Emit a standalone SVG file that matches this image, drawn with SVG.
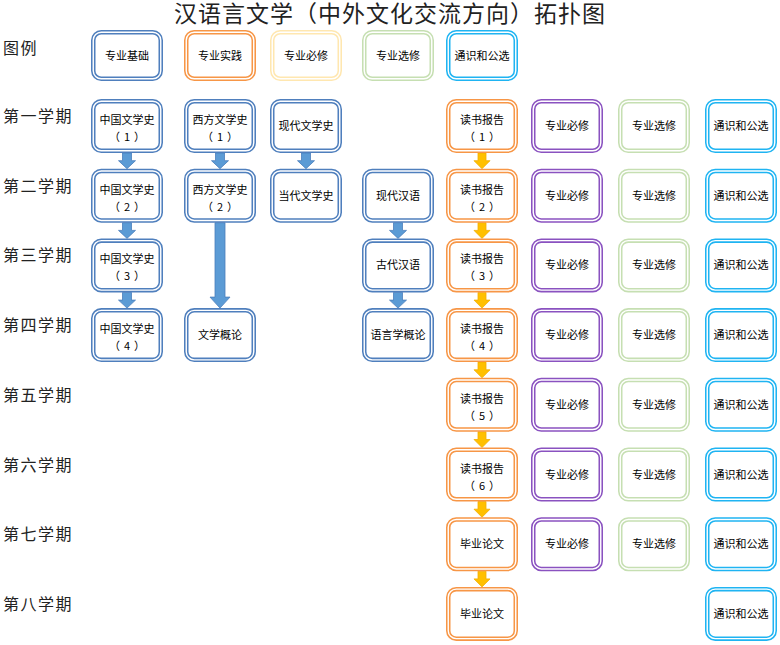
<svg xmlns="http://www.w3.org/2000/svg" width="780" height="645" viewBox="0 0 780 645">
<style>
text{font-family:"Noto Sans CJK SC","Noto Sans CJK JP",sans-serif;fill:#000}
.title{font-size:23px;fill:#222;letter-spacing:1px}
.lab{font-size:16px;fill:#222;letter-spacing:1.5px}
.node text{font-size:11px;text-anchor:middle}
.node .a{fill:#fff;stroke-width:4.5}
.node .w{fill:none;stroke:#fff;stroke-width:1.4}
.blue .a{stroke:#4f7fbd}
.orange .a{stroke:#f79646}
.yellow .a{stroke:#ffe7b0}
.green .a{stroke:#c6dfb2}
.cyan .a{stroke:#1fb4f2}
.purple .a{stroke:#8a52c0}
.ab{fill:#5b9bd5;stroke:#4a7ebb;stroke-width:0.8}
.ao{fill:#ffc000;stroke:#f2ad00;stroke-width:0.8}
</style>
<text class="title" x="390" y="22" text-anchor="middle">汉语言文学（中外文化交流方向）拓扑图</text>
<g id="labels">
<text class="lab" x="3" y="54">图例</text>
<text class="lab" x="3" y="122">第一学期</text>
<text class="lab" x="3" y="191.7">第二学期</text>
<text class="lab" x="3" y="261.4">第三学期</text>
<text class="lab" x="3" y="331.1">第四学期</text>
<text class="lab" x="3" y="400.8">第五学期</text>
<text class="lab" x="3" y="470.5">第六学期</text>
<text class="lab" x="3" y="540.2">第七学期</text>
<text class="lab" x="3" y="609.9">第八学期</text>
</g>
<g id="connectors">
<polygon class="ab" points="122.5,153 131.5,153 131.5,160.7 135.5,160.7 127,168.7 118.5,160.7 122.5,160.7"/>
<polygon class="ab" points="122.5,222.7 131.5,222.7 131.5,230.4 135.5,230.4 127,238.4 118.5,230.4 122.5,230.4"/>
<polygon class="ab" points="122.5,292.4 131.5,292.4 131.5,300.1 135.5,300.1 127,308.1 118.5,300.1 122.5,300.1"/>
<polygon class="ab" points="215.5,153 224.5,153 224.5,160.7 228.5,160.7 220,168.7 211.5,160.7 215.5,160.7"/>
<polygon class="ab" points="215,222.7 225,222.7 225,297.1 230,297.1 220,308.1 210,297.1 215,297.1"/>
<polygon class="ab" points="301.5,153 310.5,153 310.5,160.7 314.5,160.7 306,168.7 297.5,160.7 301.5,160.7"/>
<polygon class="ab" points="393.5,222.7 402.5,222.7 402.5,230.4 406.5,230.4 398,238.4 389.5,230.4 393.5,230.4"/>
<polygon class="ab" points="393.5,292.4 402.5,292.4 402.5,300.1 406.5,300.1 398,308.1 389.5,300.1 393.5,300.1"/>
<polygon class="ao" points="478,153 486,153 486,160.7 490,160.7 482,168.7 474,160.7 478,160.7"/>
<polygon class="ao" points="478,222.7 486,222.7 486,230.4 490,230.4 482,238.4 474,230.4 478,230.4"/>
<polygon class="ao" points="478,292.4 486,292.4 486,300.1 490,300.1 482,308.1 474,300.1 478,300.1"/>
<polygon class="ao" points="478,362.1 486,362.1 486,369.8 490,369.8 482,377.8 474,369.8 478,369.8"/>
<polygon class="ao" points="478,431.8 486,431.8 486,439.5 490,439.5 482,447.5 474,439.5 478,439.5"/>
<polygon class="ao" points="478,501.5 486,501.5 486,509.2 490,509.2 482,517.2 474,509.2 478,509.2"/>
<polygon class="ao" points="478,571.2 486,571.2 486,578.9 490,578.9 482,586.9 474,578.9 478,578.9"/>
</g>
<!-- legend -->
<g id="leg1" class="node blue"><rect class="a" x="93.25" y="32.25" width="67.5" height="46.5" rx="8"/><rect class="w" x="93.25" y="32.25" width="67.5" height="46.5" rx="8"/><text x="127" y="59.5">专业基础</text></g>
<g id="leg2" class="node orange"><rect class="a" x="186.25" y="32.25" width="67.5" height="46.5" rx="8"/><rect class="w" x="186.25" y="32.25" width="67.5" height="46.5" rx="8"/><text x="220" y="59.5">专业实践</text></g>
<g id="leg3" class="node yellow"><rect class="a" x="272.25" y="32.25" width="67.5" height="46.5" rx="8"/><rect class="w" x="272.25" y="32.25" width="67.5" height="46.5" rx="8"/><text x="306" y="59.5">专业必修</text></g>
<g id="leg4" class="node green"><rect class="a" x="364.25" y="32.25" width="67.5" height="46.5" rx="8"/><rect class="w" x="364.25" y="32.25" width="67.5" height="46.5" rx="8"/><text x="398" y="59.5">专业选修</text></g>
<g id="leg5" class="node cyan"><rect class="a" x="448.25" y="32.25" width="67.5" height="46.5" rx="8"/><rect class="w" x="448.25" y="32.25" width="67.5" height="46.5" rx="8"/><text x="482" y="59.5">通识和公选</text></g>
<!-- column 1 -->
<g id="zgwxs1" class="node blue"><rect class="a" x="93.25" y="101.25" width="67.5" height="49.5" rx="8"/><rect class="w" x="93.25" y="101.25" width="67.5" height="49.5" rx="8"/><text x="127" y="124">中国文学史</text><text x="127" y="141">（<tspan dx="4">1</tspan><tspan dx="4">）</tspan></text></g>
<g id="zgwxs2" class="node blue"><rect class="a" x="93.25" y="170.95" width="67.5" height="49.5" rx="8"/><rect class="w" x="93.25" y="170.95" width="67.5" height="49.5" rx="8"/><text x="127" y="193.7">中国文学史</text><text x="127" y="210.7">（<tspan dx="4">2</tspan><tspan dx="4">）</tspan></text></g>
<g id="zgwxs3" class="node blue"><rect class="a" x="93.25" y="240.65" width="67.5" height="49.5" rx="8"/><rect class="w" x="93.25" y="240.65" width="67.5" height="49.5" rx="8"/><text x="127" y="263.4">中国文学史</text><text x="127" y="280.4">（<tspan dx="4">3</tspan><tspan dx="4">）</tspan></text></g>
<g id="zgwxs4" class="node blue"><rect class="a" x="93.25" y="310.35" width="67.5" height="49.5" rx="8"/><rect class="w" x="93.25" y="310.35" width="67.5" height="49.5" rx="8"/><text x="127" y="333.1">中国文学史</text><text x="127" y="350.1">（<tspan dx="4">4</tspan><tspan dx="4">）</tspan></text></g>
<!-- column 2 -->
<g id="xfwxs1" class="node blue"><rect class="a" x="186.25" y="101.25" width="67.5" height="49.5" rx="8"/><rect class="w" x="186.25" y="101.25" width="67.5" height="49.5" rx="8"/><text x="220" y="124">西方文学史</text><text x="220" y="141">（<tspan dx="4">1</tspan><tspan dx="4">）</tspan></text></g>
<g id="xfwxs2" class="node blue"><rect class="a" x="186.25" y="170.95" width="67.5" height="49.5" rx="8"/><rect class="w" x="186.25" y="170.95" width="67.5" height="49.5" rx="8"/><text x="220" y="193.7">西方文学史</text><text x="220" y="210.7">（<tspan dx="4">2</tspan><tspan dx="4">）</tspan></text></g>
<g id="wxgl" class="node blue"><rect class="a" x="186.25" y="310.35" width="67.5" height="49.5" rx="8"/><rect class="w" x="186.25" y="310.35" width="67.5" height="49.5" rx="8"/><text x="220" y="339.1">文学概论</text></g>
<!-- column 3 -->
<g id="xdwxs" class="node blue"><rect class="a" x="272.25" y="101.25" width="67.5" height="49.5" rx="8"/><rect class="w" x="272.25" y="101.25" width="67.5" height="49.5" rx="8"/><text x="306" y="130">现代文学史</text></g>
<g id="ddwxs" class="node blue"><rect class="a" x="272.25" y="170.95" width="67.5" height="49.5" rx="8"/><rect class="w" x="272.25" y="170.95" width="67.5" height="49.5" rx="8"/><text x="306" y="199.7">当代文学史</text></g>
<!-- column 4 -->
<g id="xdhy" class="node blue"><rect class="a" x="364.25" y="170.95" width="67.5" height="49.5" rx="8"/><rect class="w" x="364.25" y="170.95" width="67.5" height="49.5" rx="8"/><text x="398" y="199.7">现代汉语</text></g>
<g id="gdhy" class="node blue"><rect class="a" x="364.25" y="240.65" width="67.5" height="49.5" rx="8"/><rect class="w" x="364.25" y="240.65" width="67.5" height="49.5" rx="8"/><text x="398" y="269.4">古代汉语</text></g>
<g id="yyxgl" class="node blue"><rect class="a" x="364.25" y="310.35" width="67.5" height="49.5" rx="8"/><rect class="w" x="364.25" y="310.35" width="67.5" height="49.5" rx="8"/><text x="398" y="339.1">语言学概论</text></g>
<!-- column 5 -->
<g id="dsbg1" class="node orange"><rect class="a" x="448.25" y="101.25" width="67.5" height="49.5" rx="8"/><rect class="w" x="448.25" y="101.25" width="67.5" height="49.5" rx="8"/><text x="482" y="124">读书报告</text><text x="482" y="141">（<tspan dx="4">1</tspan><tspan dx="4">）</tspan></text></g>
<g id="dsbg2" class="node orange"><rect class="a" x="448.25" y="170.95" width="67.5" height="49.5" rx="8"/><rect class="w" x="448.25" y="170.95" width="67.5" height="49.5" rx="8"/><text x="482" y="193.7">读书报告</text><text x="482" y="210.7">（<tspan dx="4">2</tspan><tspan dx="4">）</tspan></text></g>
<g id="dsbg3" class="node orange"><rect class="a" x="448.25" y="240.65" width="67.5" height="49.5" rx="8"/><rect class="w" x="448.25" y="240.65" width="67.5" height="49.5" rx="8"/><text x="482" y="263.4">读书报告</text><text x="482" y="280.4">（<tspan dx="4">3</tspan><tspan dx="4">）</tspan></text></g>
<g id="dsbg4" class="node orange"><rect class="a" x="448.25" y="310.35" width="67.5" height="49.5" rx="8"/><rect class="w" x="448.25" y="310.35" width="67.5" height="49.5" rx="8"/><text x="482" y="333.1">读书报告</text><text x="482" y="350.1">（<tspan dx="4">4</tspan><tspan dx="4">）</tspan></text></g>
<g id="dsbg5" class="node orange"><rect class="a" x="448.25" y="380.05" width="67.5" height="49.5" rx="8"/><rect class="w" x="448.25" y="380.05" width="67.5" height="49.5" rx="8"/><text x="482" y="402.8">读书报告</text><text x="482" y="419.8">（<tspan dx="4">5</tspan><tspan dx="4">）</tspan></text></g>
<g id="dsbg6" class="node orange"><rect class="a" x="448.25" y="449.75" width="67.5" height="49.5" rx="8"/><rect class="w" x="448.25" y="449.75" width="67.5" height="49.5" rx="8"/><text x="482" y="472.5">读书报告</text><text x="482" y="489.5">（<tspan dx="4">6</tspan><tspan dx="4">）</tspan></text></g>
<g id="bylw7" class="node orange"><rect class="a" x="448.25" y="519.45" width="67.5" height="49.5" rx="8"/><rect class="w" x="448.25" y="519.45" width="67.5" height="49.5" rx="8"/><text x="482" y="548.2">毕业论文</text></g>
<g id="bylw8" class="node orange"><rect class="a" x="448.25" y="589.15" width="67.5" height="49.5" rx="8"/><rect class="w" x="448.25" y="589.15" width="67.5" height="49.5" rx="8"/><text x="482" y="617.9">毕业论文</text></g>
<!-- column 6 -->
<g id="bx1" class="node purple"><rect class="a" x="533.25" y="101.25" width="67.5" height="49.5" rx="8"/><rect class="w" x="533.25" y="101.25" width="67.5" height="49.5" rx="8"/><text x="567" y="130">专业必修</text></g>
<g id="bx2" class="node purple"><rect class="a" x="533.25" y="170.95" width="67.5" height="49.5" rx="8"/><rect class="w" x="533.25" y="170.95" width="67.5" height="49.5" rx="8"/><text x="567" y="199.7">专业必修</text></g>
<g id="bx3" class="node purple"><rect class="a" x="533.25" y="240.65" width="67.5" height="49.5" rx="8"/><rect class="w" x="533.25" y="240.65" width="67.5" height="49.5" rx="8"/><text x="567" y="269.4">专业必修</text></g>
<g id="bx4" class="node purple"><rect class="a" x="533.25" y="310.35" width="67.5" height="49.5" rx="8"/><rect class="w" x="533.25" y="310.35" width="67.5" height="49.5" rx="8"/><text x="567" y="339.1">专业必修</text></g>
<g id="bx5" class="node purple"><rect class="a" x="533.25" y="380.05" width="67.5" height="49.5" rx="8"/><rect class="w" x="533.25" y="380.05" width="67.5" height="49.5" rx="8"/><text x="567" y="408.8">专业必修</text></g>
<g id="bx6" class="node purple"><rect class="a" x="533.25" y="449.75" width="67.5" height="49.5" rx="8"/><rect class="w" x="533.25" y="449.75" width="67.5" height="49.5" rx="8"/><text x="567" y="478.5">专业必修</text></g>
<g id="bx7" class="node purple"><rect class="a" x="533.25" y="519.45" width="67.5" height="49.5" rx="8"/><rect class="w" x="533.25" y="519.45" width="67.5" height="49.5" rx="8"/><text x="567" y="548.2">专业必修</text></g>
<!-- column 7 -->
<g id="xx1" class="node green"><rect class="a" x="620.25" y="101.25" width="67.5" height="49.5" rx="8"/><rect class="w" x="620.25" y="101.25" width="67.5" height="49.5" rx="8"/><text x="654" y="130">专业选修</text></g>
<g id="xx2" class="node green"><rect class="a" x="620.25" y="170.95" width="67.5" height="49.5" rx="8"/><rect class="w" x="620.25" y="170.95" width="67.5" height="49.5" rx="8"/><text x="654" y="199.7">专业选修</text></g>
<g id="xx3" class="node green"><rect class="a" x="620.25" y="240.65" width="67.5" height="49.5" rx="8"/><rect class="w" x="620.25" y="240.65" width="67.5" height="49.5" rx="8"/><text x="654" y="269.4">专业选修</text></g>
<g id="xx4" class="node green"><rect class="a" x="620.25" y="310.35" width="67.5" height="49.5" rx="8"/><rect class="w" x="620.25" y="310.35" width="67.5" height="49.5" rx="8"/><text x="654" y="339.1">专业选修</text></g>
<g id="xx5" class="node green"><rect class="a" x="620.25" y="380.05" width="67.5" height="49.5" rx="8"/><rect class="w" x="620.25" y="380.05" width="67.5" height="49.5" rx="8"/><text x="654" y="408.8">专业选修</text></g>
<g id="xx6" class="node green"><rect class="a" x="620.25" y="449.75" width="67.5" height="49.5" rx="8"/><rect class="w" x="620.25" y="449.75" width="67.5" height="49.5" rx="8"/><text x="654" y="478.5">专业选修</text></g>
<g id="xx7" class="node green"><rect class="a" x="620.25" y="519.45" width="67.5" height="49.5" rx="8"/><rect class="w" x="620.25" y="519.45" width="67.5" height="49.5" rx="8"/><text x="654" y="548.2">专业选修</text></g>
<!-- column 8 -->
<g id="ts1" class="node cyan"><rect class="a" x="707.25" y="101.25" width="67.5" height="49.5" rx="8"/><rect class="w" x="707.25" y="101.25" width="67.5" height="49.5" rx="8"/><text x="741" y="130">通识和公选</text></g>
<g id="ts2" class="node cyan"><rect class="a" x="707.25" y="170.95" width="67.5" height="49.5" rx="8"/><rect class="w" x="707.25" y="170.95" width="67.5" height="49.5" rx="8"/><text x="741" y="199.7">通识和公选</text></g>
<g id="ts3" class="node cyan"><rect class="a" x="707.25" y="240.65" width="67.5" height="49.5" rx="8"/><rect class="w" x="707.25" y="240.65" width="67.5" height="49.5" rx="8"/><text x="741" y="269.4">通识和公选</text></g>
<g id="ts4" class="node cyan"><rect class="a" x="707.25" y="310.35" width="67.5" height="49.5" rx="8"/><rect class="w" x="707.25" y="310.35" width="67.5" height="49.5" rx="8"/><text x="741" y="339.1">通识和公选</text></g>
<g id="ts5" class="node cyan"><rect class="a" x="707.25" y="380.05" width="67.5" height="49.5" rx="8"/><rect class="w" x="707.25" y="380.05" width="67.5" height="49.5" rx="8"/><text x="741" y="408.8">通识和公选</text></g>
<g id="ts6" class="node cyan"><rect class="a" x="707.25" y="449.75" width="67.5" height="49.5" rx="8"/><rect class="w" x="707.25" y="449.75" width="67.5" height="49.5" rx="8"/><text x="741" y="478.5">通识和公选</text></g>
<g id="ts7" class="node cyan"><rect class="a" x="707.25" y="519.45" width="67.5" height="49.5" rx="8"/><rect class="w" x="707.25" y="519.45" width="67.5" height="49.5" rx="8"/><text x="741" y="548.2">通识和公选</text></g>
<g id="ts8" class="node cyan"><rect class="a" x="707.25" y="589.15" width="67.5" height="49.5" rx="8"/><rect class="w" x="707.25" y="589.15" width="67.5" height="49.5" rx="8"/><text x="741" y="617.9">通识和公选</text></g>
</svg>
